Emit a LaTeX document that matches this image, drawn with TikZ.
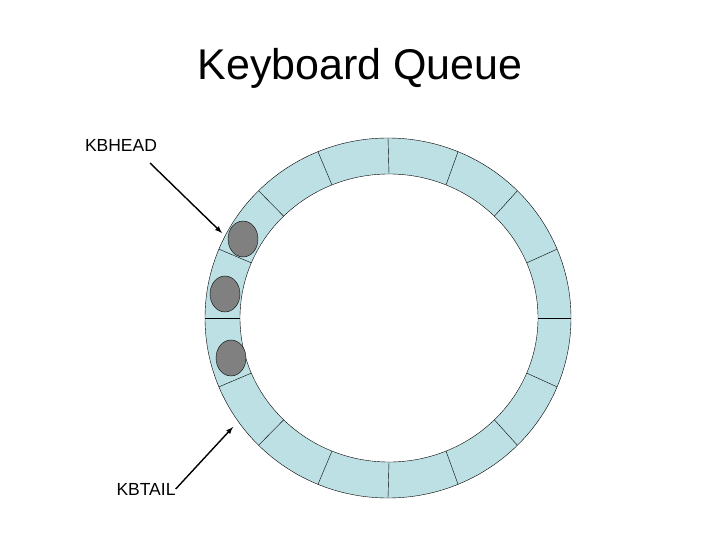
\documentclass[tikz,border=0pt]{standalone}
\usepackage{fontspec}
\setmainfont{Liberation Sans}
\usetikzlibrary{positioning,calc,shapes.geometric}
\definecolor{ringcol}{RGB}{188,224,228}
\begin{document}
\begin{tikzpicture}[x=1pt,y=-1pt,
				label/.style={inner sep=0pt,font=\fontsize{17.5}{20}\selectfont},
				token/.style={draw,ellipse,fill=gray,minimum width=30pt,minimum height=36pt,inner sep=0pt}]
				\useasboundingbox (0,0) rectangle (720,540);
				\node (TITLE) at (360,68) {\fontsize{43}{48}\selectfont Keyboard Queue};
				% ring of slots
				\fill[ringcol] (388,318) ellipse [x radius=183,y radius=180];
				\fill[white] (389,318) ellipse [x radius=149,y radius=144];
				\draw (388,318) ellipse [x radius=183,y radius=180];
				\draw (389,318) ellipse [x radius=149,y radius=144];
				\foreach \a in {0,22.5,...,340}
					\draw ($(389,318)+(\a:149 and -144)$) -- ($(388,318)+(\a:183 and -180)$);
				\node[token] (T1) at (243,239) {};
				\node[token] (T2) at (225,294) {};
				\node[token] (T3) at (231,358) {};
				\node[label] (HEAD) at (121,145) {KBHEAD};
				\node[label] (TAIL) at (146,489) {KBTAIL};
				\coordinate (H0) at (150,163);
				\coordinate (H) at (222,233);
				\coordinate (T) at (233,427);
				\draw[-latex,line width=1.4pt] (H0) -- (H);
				\draw[-latex,line width=1.4pt] (TAIL.east) -- (T);
			\end{tikzpicture}
\end{document}
